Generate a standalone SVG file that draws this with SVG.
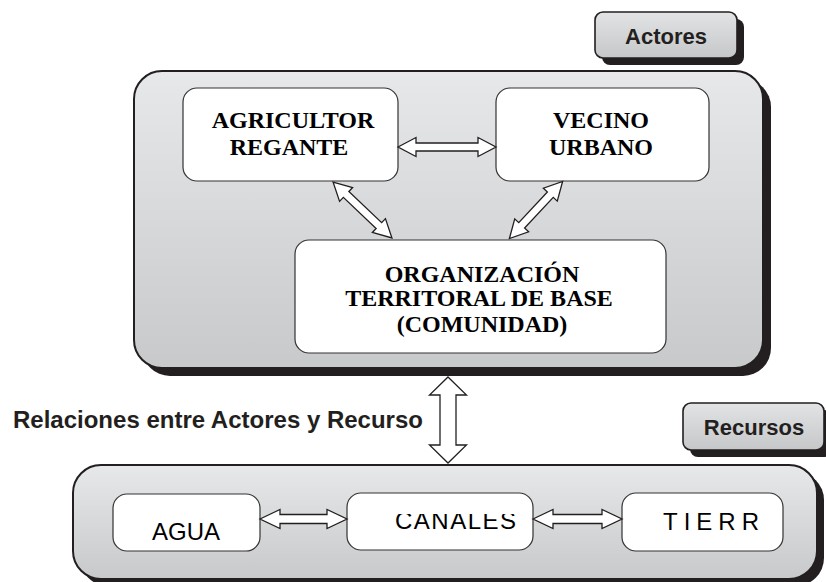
<svg xmlns="http://www.w3.org/2000/svg" width="826" height="582" viewBox="0 0 826 582">
  <defs>
    <linearGradient id="panelFill" x1="0" y1="0" x2="0" y2="1">
      <stop offset="0" stop-color="#e7e8e9"/>
      <stop offset="1" stop-color="#c8c9cb"/>
    </linearGradient>
    <linearGradient id="tabFill" x1="0" y1="0" x2="0" y2="1">
      <stop offset="0" stop-color="#e2e3e5"/>
      <stop offset="1" stop-color="#c6c7c9"/>
    </linearGradient>
    <clipPath id="canalesClip">
      <rect x="348" y="514" width="184" height="36"/>
    </clipPath>
  </defs>
  <style>
    .shadow { fill: #231f20; }
    .panel { fill: url(#panelFill); stroke: #231f20; stroke-width: 2; }
    .tab { fill: url(#tabFill); stroke: #231f20; stroke-width: 1.6; }
    .node { fill: #ffffff; stroke: #333333; stroke-width: 1.2; }
    .arrow { fill: #ffffff; stroke: #231f20; stroke-width: 1.3; stroke-linejoin: miter; }
    .label { font-family: "Liberation Sans", Arial, sans-serif; font-weight: bold; fill: #231f20; }
    .serif { font-family: "Liberation Serif", "Times New Roman", serif; font-weight: bold; font-size: 24px; fill: #000000; text-anchor: middle; }
    .sans { font-family: "Liberation Sans", Arial, sans-serif; font-size: 24px; fill: #000000; }
  </style>

  <rect width="826" height="582" fill="#ffffff"/>

  <!-- Actores tab -->
  <g id="tab-actores">
    <rect class="shadow" x="602" y="19" width="142" height="46" rx="8"/>
    <rect class="tab" x="595" y="12" width="142" height="46" rx="8"/>
    <text class="label" x="666" y="44" font-size="22" text-anchor="middle">Actores</text>
  </g>

  <!-- Actores panel -->
  <g id="panel-actores">
    <rect class="shadow" x="142" y="79" width="629" height="297" rx="28"/>
    <rect class="panel" x="134" y="71" width="629" height="297" rx="28"/>
  </g>

  <!-- Recursos tab -->
  <g id="tab-recursos">
    <rect class="shadow" x="690" y="410" width="142" height="47" rx="8"/>
    <rect class="tab" x="683" y="403" width="141" height="47" rx="8"/>
    <text class="label" x="754" y="435" font-size="22" text-anchor="middle">Recursos</text>
  </g>

  <!-- Recursos panel -->
  <g id="panel-recursos">
    <rect class="shadow" x="80" y="472" width="744" height="114" rx="28"/>
    <rect class="panel" x="73" y="465" width="744" height="114" rx="28"/>
  </g>

  <!-- Actor nodes -->
  <g id="node-agricultor">
    <rect class="node" x="183" y="88" width="215" height="93" rx="14"/>
    <text class="serif" x="293" y="128">AGRICULTOR</text>
    <text class="serif" x="289" y="155">REGANTE</text>
  </g>

  <g id="node-vecino">
    <rect class="node" x="496" y="88" width="213" height="93" rx="14"/>
    <text class="serif" x="601" y="128">VECINO</text>
    <text class="serif" x="601" y="155">URBANO</text>
  </g>

  <g id="node-organizacion">
    <rect class="node" x="295" y="240" width="371" height="113" rx="14"/>
    <text class="serif" x="482" y="282">ORGANIZACIÓN</text>
    <text class="serif" x="479" y="306">TERRITORAL DE BASE</text>
    <text class="serif" x="482" y="332">(COMUNIDAD)</text>
  </g>

  <!-- Resource nodes -->
  <g id="node-agua">
    <rect class="node" x="113" y="494" width="147" height="57" rx="14"/>
    <text class="sans" x="186" y="540" text-anchor="middle">AGUA</text>
  </g>

  <g id="node-canales">
    <rect class="node" x="347" y="493" width="186" height="57" rx="14"/>
    <text class="sans" x="395" y="529" letter-spacing="1.5" clip-path="url(#canalesClip)">CANALES</text>
  </g>

  <g id="node-tierra">
    <rect class="node" x="622" y="493" width="161" height="58" rx="14"/>
    <text class="sans" x="663" y="530" letter-spacing="6">TIERR</text>
  </g>

  <!-- Relation label -->
  <text class="label" x="13" y="428" font-size="24">Relaciones entre Actores y Recurso</text>

  <!-- Connectors: hollow double-headed arrows -->
  <g id="connectors">
    <polygon class="arrow" points="398,147 416,137.5 416,143 478,143 478,137.5 496,147 478,156.5 478,151 416,151 416,156.5"/>
    <polygon class="arrow" transform="translate(362.5,210) rotate(43.5)" points="-40.6,0 -22.6,-9.5 -22.6,-4 22.6,-4 22.6,-9.5 40.6,0 22.6,9.5 22.6,4 -22.6,4 -22.6,9.5"/>
    <polygon class="arrow" transform="translate(536,210) rotate(-47)" points="-39,0 -21,-9.5 -21,-4 21,-4 21,-9.5 39,0 21,9.5 21,4 -21,4 -21,9.5"/>
    <polygon class="arrow" points="448,377 466.5,395 456,395 456,445 466.5,445 448,463 429.5,445 440,445 440,395 429.5,395"/>
    <polygon class="arrow" points="260,519 280,509.5 280,514.5 327,514.5 327,509.5 347,519 327,528.5 327,523.5 280,523.5 280,528.5"/>
    <polygon class="arrow" points="533,519 553,509.5 553,514.5 602,514.5 602,509.5 622,519 602,528.5 602,523.5 553,523.5 553,528.5"/>
  </g>
</svg>
